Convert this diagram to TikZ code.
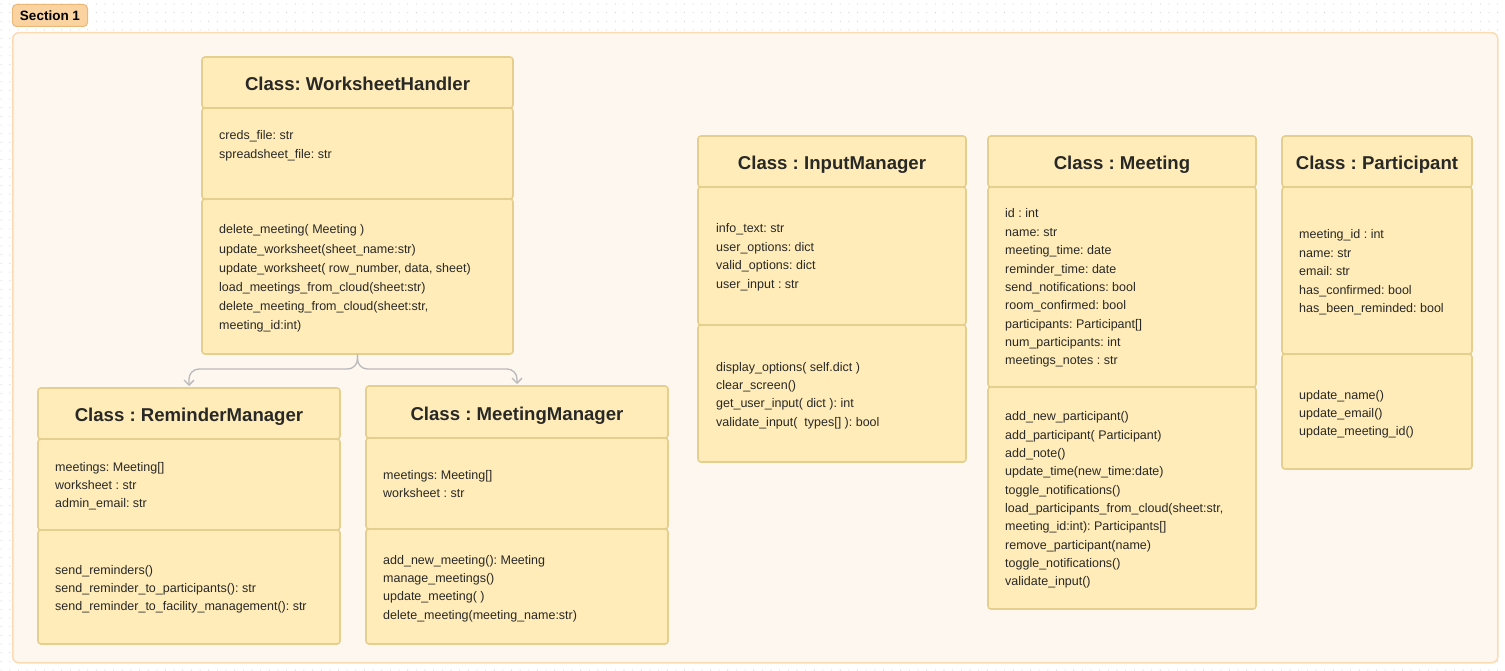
\documentclass[tikz,border=0pt]{standalone}
\usepackage{fontspec}
\setmainfont{Liberation Sans}
\usetikzlibrary{arrows.meta}
\definecolor{cfill}{RGB}{255,236,185}
\definecolor{cdraw}{RGB}{228,207,142}
\definecolor{secfill}{RGB}{254,247,240}
\definecolor{secdraw}{RGB}{252,219,178}
\definecolor{labfill}{RGB}{251,211,160}
\definecolor{labdraw}{RGB}{236,184,122}
\definecolor{txtc}{RGB}{40,40,38}
\definecolor{conc}{RGB}{185,185,185}
\definecolor{dotc}{RGB}{205,205,205}
\newcommand{\ulines}[1]{\begin{tabular}[t]{@{}l@{}}#1\end{tabular}}
\newcommand{\compbox}[5]{\node[comp, minimum width=#4pt, minimum height=#5pt] (#1) at (#2,#3) {};}
\begin{document}
\frenchspacing
\begin{tikzpicture}[x=1pt,y=-1pt,
  comp/.style={draw=cdraw, fill=cfill, line width=1.6pt, rounded corners=3pt, anchor=north west, inner sep=0pt, outer sep=0pt},
  title/.style={anchor=base, inner sep=0pt, text=txtc, font=\fontsize{18.6}{22}\selectfont\bfseries\frenchspacing},
  body/.style={anchor=base west, inner sep=0pt, text=txtc, font=\fontsize{12.5}{18.35}\selectfont\frenchspacing},
  bodywide/.style={anchor=base west, inner sep=0pt, text=txtc, font=\fontsize{12.5}{19.1}\selectfont\frenchspacing},
  conn/.style={draw=conc, line width=1.3pt, rounded corners=10pt, shorten >=2pt, -{Straight Barb[length=5pt,width=10pt]}}
]
\useasboundingbox (0,0) rectangle (1505,671);
\fill[white] (0,0) rectangle (1505,671);
% background dot grid (visible in margins)
\foreach \x in {1.15,9.8,...,1505}{\foreach \y in {3.95,12.6,21.25,29.9,670}{\fill[dotc] (\x,\y) circle (0.55pt);}}
\foreach \y in {38.55,47.2,...,662}{\foreach \x in {1.15,9.8,1497.6}{\fill[dotc] (\x,\y) circle (0.55pt);}}
% section frame and label
\node[draw=secdraw, fill=secfill, line width=1.5pt, rounded corners=6pt, minimum width=1485pt, minimum height=630pt, anchor=north west, inner sep=0pt] (sec) at (12,32) {};
\node[draw=labdraw, fill=labfill, line width=1pt, rounded corners=4pt, minimum width=75pt, minimum height=22pt, anchor=north west, inner sep=0pt, font=\fontsize{13.5}{16}\selectfont\bfseries, text=black] (seclab) at (12,4) {Section 1};

% WorksheetHandler
\compbox{wh}{202}{57}{311}{51}
\compbox{wha}{202}{108}{311}{91}
\compbox{whm}{202}{199}{311}{155}
\node[title] (wht) at ([yshift=-8pt]wh.center) {Class: WorksheetHandler};
\node[body] (what) at (219,140) {\ulines{creds\_file: str\\spreadsheet\_file: str}};
\node[bodywide] (whmt) at (219,234) {\ulines{delete\_meeting( Meeting )\\update\_worksheet(sheet\_name:str)\\update\_worksheet( row\_number, data, sheet)\\load\_meetings\_from\_cloud(sheet:str)\\delete\_meeting\_from\_cloud(sheet:str,\\meeting\_id:int)}};

% ReminderManager
\compbox{rm}{38}{388}{302}{51}
\compbox{rma}{38}{439}{302}{91}
\compbox{rmm}{38}{530}{302}{114}
\node[title] (rmt) at ([yshift=-8pt]rm.center) {Class : ReminderManager};
\node[body] (rmat) at (55,471) {\ulines{meetings: Meeting[]\\worksheet : str\\admin\_email: str}};
\node[body] (rmmt) at (55,574) {\ulines{send\_reminders()\\send\_reminder\_to\_participants(): str\\send\_reminder\_to\_facility\_management(): str}};

% MeetingManager
\compbox{mm}{366}{386}{302}{52}
\compbox{mma}{366}{438}{302}{91}
\compbox{mmm}{366}{529}{302}{115}
\node[title] (mmt) at ([yshift=-8pt]mm.center) {Class : MeetingManager};
\node[body] (mmat) at (383,479) {\ulines{meetings: Meeting[]\\worksheet : str}};
\node[body] (mmmt) at (383,564) {\ulines{add\_new\_meeting(): Meeting\\manage\_meetings()\\update\_meeting( )\\delete\_meeting(meeting\_name:str)}};

% InputManager
\compbox{im}{698}{136}{268}{51}
\compbox{ima}{698}{187}{268}{138}
\compbox{imm}{698}{325}{268}{137}
\node[title] (imt) at ([yshift=-8pt]im.center) {Class : InputManager};
\node[body] (imat) at (716,233) {\ulines{info\_text: str\\user\_options: dict\\valid\_options: dict\\user\_input : str}};
\node[body] (immt) at (716,371) {\ulines{display\_options( self.dict )\\clear\_screen()\\get\_user\_input( dict ): int\\validate\_input(\ \ types[] ): bool}};

% Meeting
\compbox{mt}{988}{136}{268}{51}
\compbox{mta}{988}{187}{268}{200}
\compbox{mtm}{988}{387}{268}{222}
\node[title] (mtt) at ([yshift=-8pt]mt.center) {Class : Meeting};
\node[body] (mtat) at (1005,218) {\ulines{id : int\\name: str\\meeting\_time: date\\reminder\_time: date\\send\_notifications: bool\\room\_confirmed: bool\\participants: Participant[]\\num\_participants: int\\meetings\_notes : str}};
\node[body] (mtmt) at (1005,420.7) {\ulines{add\_new\_participant()\\add\_participant( Participant)\\add\_note()\\update\_time(new\_time:date)\\toggle\_notifications()\\load\_participants\_from\_cloud(sheet:str,\\meeting\_id:int): Participants[]\\remove\_participant(name)\\toggle\_notifications()\\validate\_input()}};

% Participant
\compbox{pt}{1282}{136}{190}{51}
\compbox{pta}{1282}{187}{190}{167}
\compbox{ptm}{1282}{354}{190}{115}
\node[title] (ptt) at ([yshift=-8pt]pt.center) {Class : Participant};
\node[body] (ptat) at (1299,239) {\ulines{meeting\_id : int\\name: str\\email: str\\has\_confirmed: bool\\has\_been\_reminded: bool}};
\node[body] (ptmt) at (1299,399) {\ulines{update\_name()\\update\_email()\\update\_meeting\_id()}};

% connectors
\draw[conn] (whm.south) -- ++(0,15) -| (rm.north);
\draw[conn] (whm.south) -- ++(0,15) -| (mm.north);
\end{tikzpicture}
\end{document}
